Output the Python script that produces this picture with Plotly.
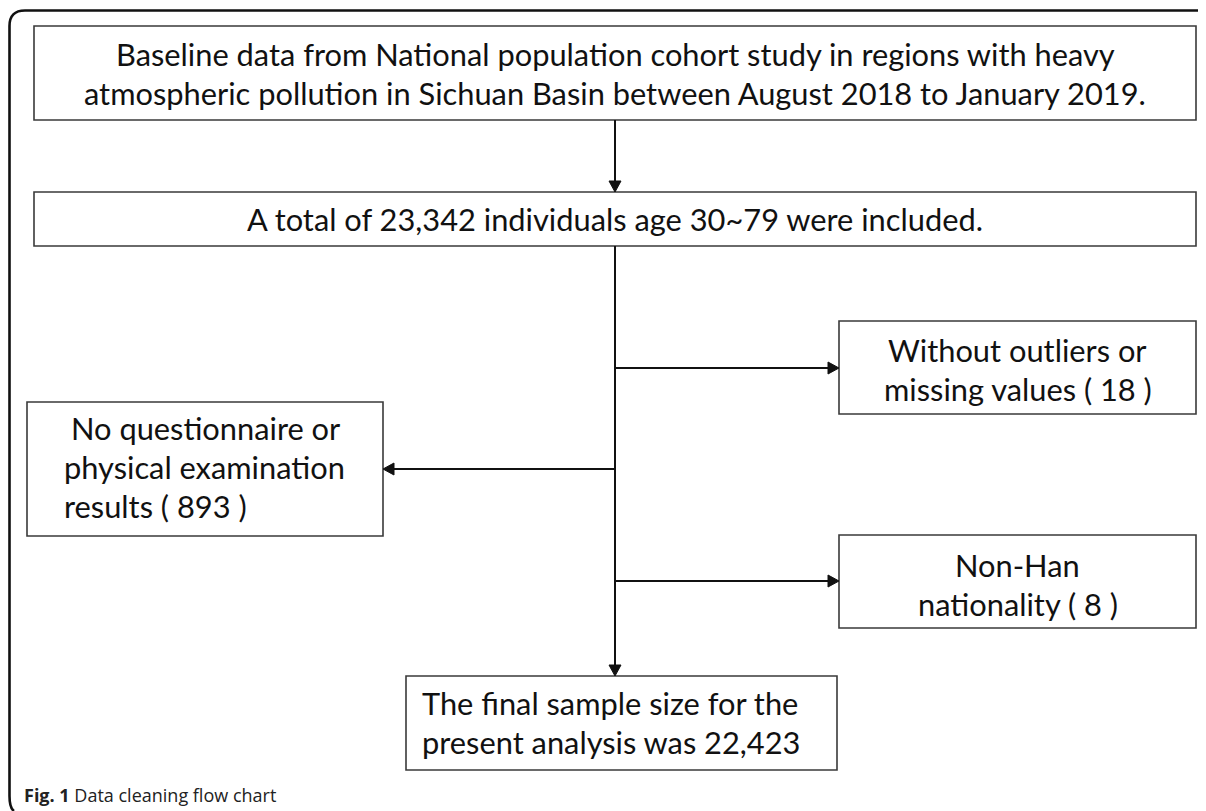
import plotly.graph_objects as go

# ---- content (text of each flow step) ----
step_lines = {
    "source": ["Baseline data from National population cohort study in regions with heavy",
               "atmospheric pollution in Sichuan Basin between August 2018 to January 2019."],
    "total": ["A total of 23,342 individuals age 30~79 were included."],
    "excl_outliers": ["Without outliers or", "missing values ( 18 )"],
    "excl_noresult": ["No questionnaire or", "physical examination", "results ( 893 )"],
    "excl_nonhan": ["Non-Han", "nationality ( 8 )"],
    "final": ["The final sample size for the", "present analysis was 22,423"],
}
excluded_counts = [18, 893, 8]
caption_bold = "Fig. 1"
caption_text = " Data cleaning flow chart"

# ---- layout geometry (page pixels; the page body has an 8px margin) ----
PAGE_W, PAGE_H = 1206, 811
OFF = 8
# per-line anchor: "c" = centred in box, number = left edge x
boxes = {
    "source": dict(x0=34, x1=1196, y0=26, y1=120, lines_y=[54, 93], anchors=["c", "c"]),
    "total": dict(x0=34, x1=1196, y0=192, y1=246, lines_y=[219], anchors=["c"]),
    "excl_outliers": dict(x0=839, x1=1196, y0=321, y1=414, lines_y=[350, 389], anchors=["c", "c"]),
    "excl_noresult": dict(x0=27, x1=383, y0=402, y1=536, lines_y=[428, 467, 506], anchors=["c", 62, 62]),
    "excl_nonhan": dict(x0=839, x1=1196, y0=535, y1=628, lines_y=[565, 604], anchors=["c", "c"]),
    "final": dict(x0=406, x1=837, y0=676, y1=770, lines_y=[703, 742], anchors=[420, 420]),
}
spine_x = 615
FONT = "Lato"
FS = 30.8
BOX_COLOR = "#3a3a3a"
ARROW_COLOR = "#111111"

fig = go.Figure()
shapes = []
annotations = []

# outer frame (top + left with rounded corners)
shapes.append(dict(type="path", xref="x", yref="y",
                   path=f"M {PAGE_W},10.5 L 25,10.5 Q 9.5,10.5 9.5,26 L 9.5,796 Q 9.5,808 14,811",
                   line=dict(color="#111111", width=2.6)))

for key, b in boxes.items():
    shapes.append(dict(type="rect", xref="x", yref="y", x0=b["x0"], x1=b["x1"], y0=b["y0"], y1=b["y1"],
                       line=dict(color=BOX_COLOR, width=1.6), fillcolor="rgba(0,0,0,0)"))
    for txt, yy, anc in zip(step_lines[key], b["lines_y"], b["anchors"]):
        if anc == "c":
            annotations.append(dict(x=(b["x0"] + b["x1"]) / 2, y=yy, xref="x", yref="y", text=txt,
                                    showarrow=False, xanchor="center", yanchor="middle",
                                    font=dict(family=FONT, size=FS, color="#111111")))
        else:
            annotations.append(dict(x=anc, y=yy, xref="x", yref="y", text=txt,
                                    showarrow=False, xanchor="left", yanchor="middle",
                                    font=dict(family=FONT, size=FS, color="#111111")))


def line(x0, y0, x1, y1):
    shapes.append(dict(type="line", xref="x", yref="y", x0=x0, y0=y0, x1=x1, y1=y1,
                       line=dict(color=ARROW_COLOR, width=2)))


def head(x, y, direction, L=11, Wd=6):
    if direction == "down":
        p = f"M {x},{y} L {x-Wd},{y-L} L {x+Wd},{y-L} Z"
    elif direction == "right":
        p = f"M {x},{y} L {x-L},{y-Wd} L {x-L},{y+Wd} Z"
    else:
        p = f"M {x},{y} L {x+L},{y-Wd} L {x+L},{y+Wd} Z"
    shapes.append(dict(type="path", xref="x", yref="y", path=p,
                       fillcolor=ARROW_COLOR, line=dict(color=ARROW_COLOR, width=1)))


# arrows
b = boxes
line(spine_x, b["source"]["y1"], spine_x, b["total"]["y0"] - 6)
head(spine_x, b["total"]["y0"], "down")
line(spine_x, b["total"]["y1"], spine_x, b["final"]["y0"] - 6)
head(spine_x, b["final"]["y0"], "down")
for key, yy, d in [("excl_outliers", 368, "right"), ("excl_noresult", 469, "left"), ("excl_nonhan", 581, "right")]:
    if d == "right":
        line(spine_x, yy, b[key]["x0"] - 6, yy)
        head(b[key]["x0"], yy, "right")
    else:
        line(spine_x, yy, b[key]["x1"] + 6, yy)
        head(b[key]["x1"], yy, "left")

annotations.append(dict(x=22, y=795, xref="x", yref="y", showarrow=False, xanchor="left", yanchor="middle",
                        text=f"<b>{caption_bold}</b>{caption_text}",
                        font=dict(family="Open Sans", size=18, color="#222222")))

fig.update_layout(
    width=PAGE_W - OFF, height=PAGE_H - OFF, margin=dict(l=0, r=0, t=0, b=0),
    paper_bgcolor="white", plot_bgcolor="white",
    xaxis=dict(range=[OFF, PAGE_W], visible=False, fixedrange=True),
    yaxis=dict(range=[PAGE_H, OFF], visible=False, fixedrange=True),
    shapes=shapes, annotations=annotations, showlegend=False,
)
fig.write_html("out.html")
